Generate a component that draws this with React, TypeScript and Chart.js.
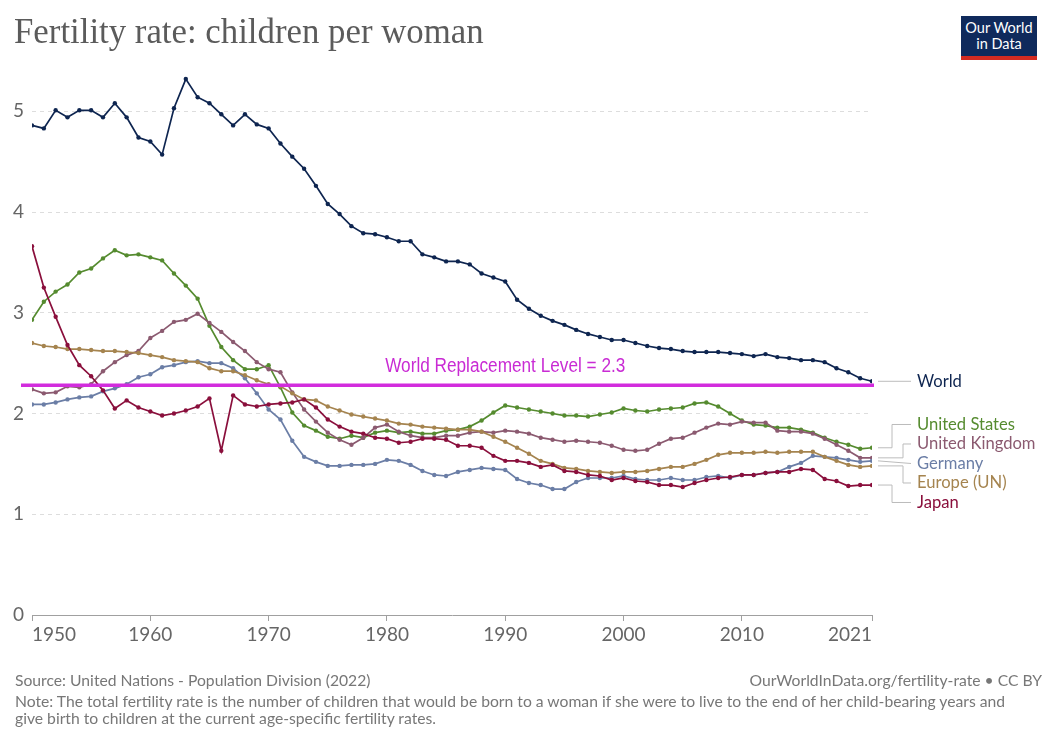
import React, { useEffect, useRef } from "react";
import { Chart, registerables } from "chart.js";

Chart.register(...registerables);

const years: number[] = [
  1950, 1951, 1952, 1953, 1954, 1955, 1956, 1957, 1958, 1959,
  1960, 1961, 1962, 1963, 1964, 1965, 1966, 1967, 1968, 1969,
  1970, 1971, 1972, 1973, 1974, 1975, 1976, 1977, 1978, 1979,
  1980, 1981, 1982, 1983, 1984, 1985, 1986, 1987, 1988, 1989,
  1990, 1991, 1992, 1993, 1994, 1995, 1996, 1997, 1998, 1999,
  2000, 2001, 2002, 2003, 2004, 2005, 2006, 2007, 2008, 2009,
  2010, 2011, 2012, 2013, 2014, 2015, 2016, 2017, 2018, 2019,
  2020, 2021,
];

const world: number[] = [
  4.86, 4.83, 5.01, 4.94, 5.01, 5.01, 4.94, 5.08, 4.94, 4.74,
  4.70, 4.57, 5.03, 5.32, 5.14, 5.08, 4.97, 4.86, 4.97, 4.87,
  4.83, 4.68, 4.55, 4.43, 4.26, 4.08, 3.98, 3.86, 3.79, 3.78,
  3.75, 3.71, 3.71, 3.58, 3.55, 3.51, 3.51, 3.48, 3.39, 3.35,
  3.31, 3.13, 3.04, 2.97, 2.92, 2.88, 2.83, 2.79, 2.76, 2.73,
  2.73, 2.70, 2.67, 2.65, 2.64, 2.62, 2.61, 2.61, 2.61, 2.60,
  2.59, 2.57, 2.59, 2.56, 2.55, 2.53, 2.53, 2.51, 2.45, 2.41,
  2.35, 2.32,
];

const unitedStates: number[] = [
  2.93, 3.11, 3.21, 3.28, 3.40, 3.44, 3.54, 3.62, 3.57, 3.58,
  3.55, 3.52, 3.39, 3.27, 3.14, 2.87, 2.66, 2.53, 2.44, 2.44,
  2.48, 2.26, 2.01, 1.88, 1.83, 1.77, 1.75, 1.78, 1.76, 1.81,
  1.83, 1.81, 1.82, 1.80, 1.80, 1.83, 1.84, 1.87, 1.93, 2.01,
  2.08, 2.06, 2.04, 2.02, 2.00, 1.98, 1.98, 1.97, 1.99, 2.01,
  2.05, 2.03, 2.02, 2.04, 2.05, 2.06, 2.10, 2.11, 2.07, 2.00,
  1.93, 1.89, 1.88, 1.86, 1.86, 1.84, 1.81, 1.76, 1.72, 1.69,
  1.65, 1.66,
];

const unitedKingdom: number[] = [
  2.24, 2.20, 2.21, 2.27, 2.26, 2.29, 2.42, 2.51, 2.58, 2.62,
  2.75, 2.82, 2.91, 2.93, 2.99, 2.90, 2.81, 2.71, 2.62, 2.51,
  2.44, 2.41, 2.21, 2.04, 1.92, 1.81, 1.74, 1.69, 1.76, 1.86,
  1.89, 1.82, 1.78, 1.76, 1.76, 1.78, 1.78, 1.81, 1.82, 1.81,
  1.83, 1.82, 1.80, 1.76, 1.74, 1.72, 1.73, 1.72, 1.71, 1.68,
  1.64, 1.63, 1.64, 1.70, 1.75, 1.76, 1.81, 1.86, 1.90, 1.89,
  1.92, 1.91, 1.91, 1.83, 1.82, 1.82, 1.80, 1.75, 1.69, 1.63,
  1.56, 1.56,
];

const germany: number[] = [
  2.09, 2.09, 2.11, 2.14, 2.16, 2.17, 2.22, 2.25, 2.29, 2.36,
  2.39, 2.46, 2.48, 2.51, 2.52, 2.50, 2.50, 2.45, 2.35, 2.20,
  2.04, 1.94, 1.73, 1.57, 1.52, 1.48, 1.48, 1.49, 1.49, 1.50,
  1.54, 1.53, 1.49, 1.43, 1.39, 1.38, 1.42, 1.44, 1.46, 1.45,
  1.44, 1.35, 1.31, 1.29, 1.25, 1.25, 1.32, 1.36, 1.36, 1.36,
  1.38, 1.35, 1.34, 1.34, 1.36, 1.34, 1.34, 1.37, 1.38, 1.36,
  1.39, 1.39, 1.41, 1.42, 1.47, 1.51, 1.58, 1.57, 1.56, 1.54,
  1.52, 1.53,
];

const europe: number[] = [
  2.70, 2.67, 2.66, 2.64, 2.64, 2.63, 2.62, 2.62, 2.61, 2.60,
  2.58, 2.56, 2.53, 2.52, 2.51, 2.45, 2.42, 2.42, 2.38, 2.33,
  2.29, 2.27, 2.20, 2.14, 2.13, 2.07, 2.03, 1.99, 1.97, 1.95,
  1.93, 1.90, 1.89, 1.87, 1.86, 1.85, 1.84, 1.84, 1.82, 1.77,
  1.72, 1.66, 1.60, 1.53, 1.50, 1.46, 1.45, 1.43, 1.42, 1.41,
  1.42, 1.42, 1.43, 1.45, 1.47, 1.47, 1.50, 1.54, 1.59, 1.61,
  1.61, 1.61, 1.62, 1.61, 1.62, 1.62, 1.62, 1.57, 1.53, 1.49,
  1.47, 1.48,
];

const japan: number[] = [
  3.66, 3.25, 2.96, 2.68, 2.48, 2.37, 2.23, 2.05, 2.13, 2.06,
  2.02, 1.98, 2.00, 2.03, 2.07, 2.15, 1.63, 2.18, 2.09, 2.07,
  2.09, 2.10, 2.11, 2.14, 2.06, 1.94, 1.87, 1.82, 1.80, 1.76,
  1.75, 1.71, 1.72, 1.75, 1.75, 1.74, 1.68, 1.68, 1.66, 1.58,
  1.53, 1.53, 1.51, 1.47, 1.49, 1.43, 1.42, 1.39, 1.38, 1.34,
  1.36, 1.33, 1.32, 1.29, 1.29, 1.27, 1.31, 1.34, 1.36, 1.37,
  1.39, 1.39, 1.41, 1.42, 1.42, 1.45, 1.44, 1.35, 1.33, 1.28,
  1.29, 1.29,
];

const xTickValues: number[] = [1950, 1960, 1970, 1980, 1990, 2000, 2010, 2021];
const yTickValues: number[] = [0, 1, 2, 3, 4, 5];

const replacementLevel = 2.28;
const replacementLabel = "World Replacement Level = 2.3";
const replacementLabelYear = 1990;

const seriesNames: string[] = ["Japan", "Europe (UN)", "Germany", "United Kingdom", "United States", "World"];
const seriesValues: number[][] = [japan, europe, germany, unitedKingdom, unitedStates, world];
const seriesColors: string[] = ["#8a0f3c", "#a5844f", "#6b7ea6", "#8b5a70", "#558b2f", "#0e2550"];

const FONT = "Lato, 'Noto Sans', sans-serif";

const endLabelsPlugin = {
  id: "endLabels",
  afterDatasetsDraw(chart: any) {
    const { ctx, chartArea, scales } = chart;
    const xs = scales.x;
    const ys = scales.y;

    // replacement level line + label
    const ry = ys.getPixelForValue(replacementLevel);
    ctx.save();
    ctx.strokeStyle = "#d22cdd";
    ctx.lineWidth = 3.5;
    ctx.beginPath();
    ctx.moveTo(chartArea.left - 11, ry);
    ctx.lineTo(chartArea.right + 2, ry);
    ctx.stroke();
    ctx.fillStyle = "#c92bd4";
    ctx.font = "20px 'Liberation Sans', Arial, sans-serif";
    ctx.textAlign = "center";
    ctx.textBaseline = "middle";
    const lx = xs.getPixelForValue(replacementLabelYear);
    ctx.translate(lx, ry - 19);
    ctx.scale(0.86, 1);
    ctx.fillText(replacementLabel, 0, 0);
    ctx.restore();

    // end labels
    const items = seriesNames.map((name, i) => {
      const vals = seriesValues[i];
      const py = ys.getPixelForValue(vals[vals.length - 1]);
      return { name, color: seriesColors[i], py, ly: py };
    });
    items.sort((a, b) => a.py - b.py);
    const spacing = 19.5;
    const groups: any[][] = items.map((it) => [it]);
    const place = (g: any[]) => {
      const mean = g.reduce((s, it) => s + it.py, 0) / g.length;
      g.forEach((it, k) => {
        it.ly = mean + (k - (g.length - 1) / 2) * spacing;
      });
    };
    groups.forEach(place);
    let changed = true;
    while (changed) {
      changed = false;
      for (let i = 0; i < groups.length - 1; i++) {
        const a = groups[i];
        const b = groups[i + 1];
        if (b[0].ly - a[a.length - 1].ly < spacing) {
          const merged = a.concat(b);
          place(merged);
          groups.splice(i, 2, merged);
          changed = true;
          break;
        }
      }
    }

    const endX = xs.getPixelForValue(years[years.length - 1]);
    const labelX = endX + 45;
    ctx.save();
    ctx.font = `16.6px ${FONT}`;
    ctx.textAlign = "left";
    ctx.textBaseline = "middle";
    groups.forEach((g) => {
      g.forEach((it: any, k: number) => {
        ctx.strokeStyle = "#bcbcbc";
        ctx.lineWidth = 1;
        ctx.beginPath();
        if (Math.abs(it.ly - it.py) < 4) {
          ctx.moveTo(endX + 6, it.py);
          ctx.lineTo(labelX - 6, it.ly);
        } else {
          const outer = k === 0 || k === g.length - 1;
          const ex = endX + (outer ? 20 : 31);
          ctx.moveTo(endX + 6, it.py);
          ctx.lineTo(ex, it.py);
          ctx.lineTo(ex, it.ly);
          ctx.lineTo(labelX - 6, it.ly);
        }
        ctx.stroke();
        ctx.fillStyle = it.color;
        ctx.fillText(it.name, labelX, it.ly);
      });
    });
    ctx.restore();
  },
};

function FertilityChart() {
  const canvasRef = useRef<HTMLCanvasElement | null>(null);

  useEffect(() => {
    if (!canvasRef.current) return;
    const datasets = seriesNames.map((name, i) => ({
      label: name,
      data: years.map((yr, j) => ({ x: yr, y: seriesValues[i][j] })),
      borderColor: seriesColors[i],
      backgroundColor: seriesColors[i],
      pointBackgroundColor: seriesColors[i],
      borderWidth: 1.7,
      pointRadius: 2.2,
      pointBorderWidth: 0,
      tension: 0,
      fill: false,
    }));

    const chart = new Chart(canvasRef.current, {
      type: "line",
      data: { datasets },
      options: {
        animation: false,
        responsive: false,
        maintainAspectRatio: false,
        layout: { padding: { left: 0, top: 71, right: 180, bottom: 87 } },
        plugins: {
          legend: { display: false },
          tooltip: { enabled: false },
        },
        scales: {
          x: {
            type: "linear",
            min: 1950,
            max: 2021,
            afterBuildTicks: (scale: any) => {
              scale.ticks = xTickValues.map((v) => ({ value: v }));
            },
            afterFit: (scale: any) => {
              scale.height = 40;
            },
            grid: {
              drawOnChartArea: false,
              drawTicks: true,
              tickLength: 6,
              color: "#a0a0a0",
            },
            border: { display: true, color: "#a0a0a0", width: 1 },
            ticks: {
              align: "inner",
              autoSkip: false,
              maxRotation: 0,
              padding: 2,
              color: "#666666",
              font: { family: FONT, size: 19 },
              callback: (v: any) => String(v),
            },
          },
          y: {
            type: "linear",
            min: 0,
            max: 5.4,
            afterBuildTicks: (scale: any) => {
              scale.ticks = yTickValues.map((v) => ({ value: v }));
            },
            afterFit: (scale: any) => {
              scale.width = 32;
            },
            grid: {
              drawTicks: false,
              color: (c: any) => (c.tick && c.tick.value === 0 ? "rgba(0,0,0,0)" : "#dddddd"),
              lineWidth: 1,
            },
            border: { display: false, dash: [4, 4] },
            ticks: {
              padding: 8,
              color: "#666666",
              font: { family: FONT, size: 19 },
              callback: (v: any) => String(v),
            },
          },
        },
      },
      plugins: [endLabelsPlugin],
    } as any);

    return () => chart.destroy();
  }, []);

  return <canvas ref={canvasRef} width={1052} height={742} style={{ position: "absolute", left: 0, top: 0, width: 1052, height: 742 }} />;
}

export default function App() {
  return (
    <div style={{ position: "absolute", left: 0, top: 0, width: 1052, height: 742, background: "#ffffff", overflow: "hidden", fontFamily: FONT }}>
      <FertilityChart />
      <div
        style={{
          position: "absolute",
          left: 14,
          top: 11,
          fontFamily: "'Liberation Serif', 'DejaVu Serif', serif",
          fontSize: 34.8,
          lineHeight: "42px",
          color: "#5b5b5b",
          whiteSpace: "nowrap",
        }}
      >
        Fertility rate: children per woman
      </div>
      <div
        style={{
          position: "absolute",
          left: 961,
          top: 16,
          width: 76,
          height: 44,
          background: "#0f2a5c",
          color: "#ffffff",
          fontFamily: FONT,
          fontSize: 14.5,
          lineHeight: "16px",
          textAlign: "center",
          boxSizing: "border-box",
          paddingTop: 4,
          borderBottom: "4px solid #d42b21",
        }}
      >
        Our World
        <br />
        in Data
      </div>
      <div
        style={{
          position: "absolute",
          left: 15,
          top: 672,
          fontSize: 15.7,
          lineHeight: "17px",
          color: "#777777",
          whiteSpace: "nowrap",
        }}
      >
        Source: United Nations - Population Division (2022)
      </div>
      <div
        style={{
          position: "absolute",
          right: 10,
          top: 672,
          fontSize: 15.7,
          lineHeight: "17px",
          color: "#777777",
          whiteSpace: "nowrap",
        }}
      >
        OurWorldInData.org/fertility-rate • CC BY
      </div>
      <div
        style={{
          position: "absolute",
          left: 15,
          top: 693,
          fontSize: 15.7,
          lineHeight: "17px",
          color: "#777777",
          whiteSpace: "nowrap",
        }}
      >
        Note: The total fertility rate is the number of children that would be born to a woman if she were to live to the end of her child-bearing years and
        <br />
        give birth to children at the current age-specific fertility rates.
      </div>
    </div>
  );
}
